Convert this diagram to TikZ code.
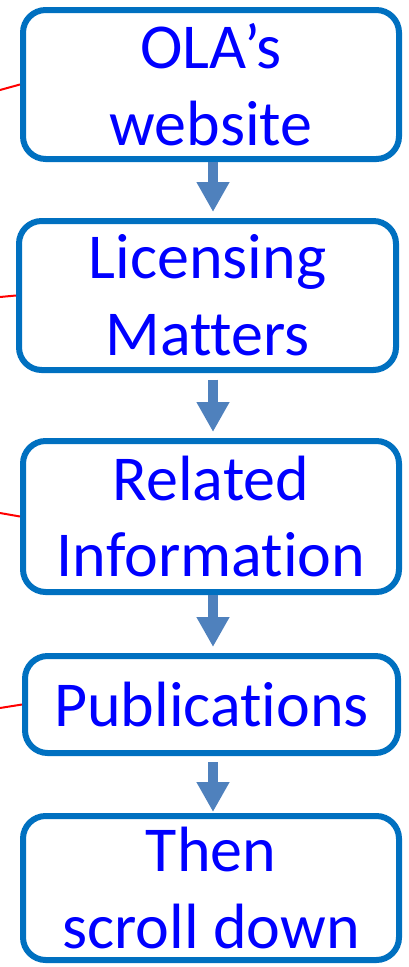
\documentclass[tikz,border=0pt]{standalone}
\usepackage{fontspec}
\setmainfont{Carlito}[Ligatures={NoCommon,NoRare}]
\usepackage{xcolor}
\usepackage{tikz}
\usetikzlibrary{arrows.meta}
\definecolor{boxblue}{RGB}{0,112,192}
\definecolor{textblue}{RGB}{0,0,255}
\definecolor{arrowblue}{RGB}{79,129,189}

\tikzset{
  stepbox/.style={draw=boxblue, line width=4.5pt, rounded corners=17pt, fill=white,
    text=textblue, align=center, inner sep=0pt,
    font=\fontsize{48}{57.5}\selectfont},
  flow/.style={draw=arrowblue, line width=7.5pt,
    -{Triangle[width=23.25pt,length=22.5pt]}, arrowblue, shorten >=4.5pt},
  link/.style={draw=red, line width=1.5pt}
}

\begin{document}
\begin{tikzpicture}[x=0.75pt,y=-0.75pt]
	\useasboundingbox (0,0) rectangle (409,967);
	% Steps
	\node[stepbox, minimum width=282pt, minimum height=111.75pt] (ola) at (211,84.5) {OLA’s\\website};
	\node[stepbox, minimum width=282.75pt, minimum height=111.75pt] (licensing) at (207.5,295.5) {Licensing\\Matters};
	\node[stepbox, minimum width=282pt, minimum height=113.25pt] (related) at (211,516.5) {Related\\Information};
	\node[stepbox, minimum width=279.75pt, minimum height=72.75pt] (publications) at (211.5,704.5) {Publications};
	\node[stepbox, minimum width=282pt, minimum height=108pt] (scroll) at (211,888) {Then\\scroll down};
	% Arrows between steps
	\coordinate (axis) at (213,0);
	\draw[flow] (ola.south -| axis) -- (licensing.north -| axis);
	\draw[flow, shorten <=5pt] (licensing.south -| axis) -- (related.north -| axis);
	\draw[flow] (related.south -| axis) -- (publications.north -| axis);
	\draw[flow, shorten <=4.5pt, shorten >=0.75pt] (publications.south -| axis) -- (scroll.north -| axis);
	% Red links from the left
	\coordinate (r1) at (0,90);
	\coordinate (r2) at (0,297);
	\coordinate (r3) at (0,513);
	\coordinate (r4) at (0,708);
	\draw[link] (r1) -- (ola.west);
	\draw[link] (r2) -- (licensing.west);
	\draw[link] (r3) -- (related.west);
	\draw[link] (r4) -- (publications.west);
\end{tikzpicture}
\end{document}
